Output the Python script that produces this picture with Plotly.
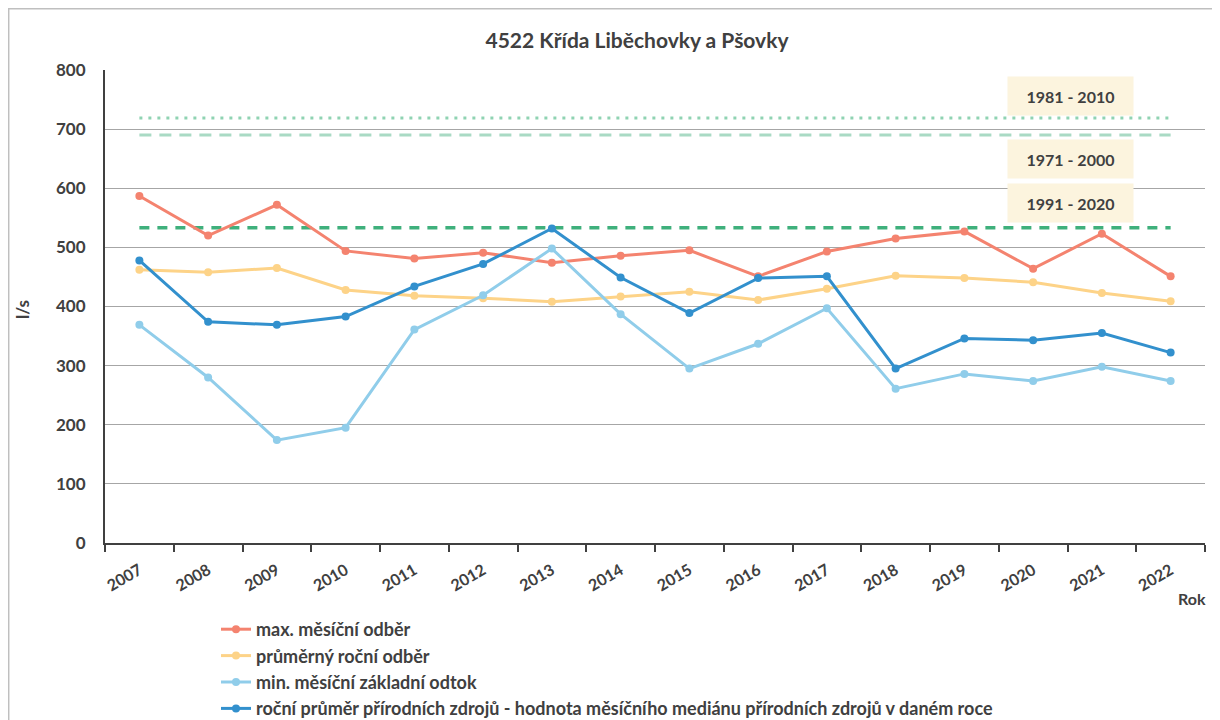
import plotly.graph_objects as go

years = [str(y) for y in range(2007, 2023)]

max_odber = [587, 520, 572, 494, 481, 491, 474, 486, 495, 451, 493, 515, 527, 464, 523, 451]
prumerny_odber = [462, 458, 465, 428, 418, 414, 408, 417, 425, 411, 430, 452, 448, 441, 423, 409]
min_odtok = [369, 280, 174, 195, 361, 419, 498, 387, 295, 337, 397, 261, 286, 274, 298, 274]
prirodni_zdroje = [478, 374, 369, 383, 434, 472, 532, 449, 389, 448, 451, 295, 346, 343, 355, 322]

ref_labels = ["1981 - 2010", "1971 - 2000", "1991 - 2020"]
ref_values = [719, 690, 533]

series_names = [
    "max. měsíční odběr",
    "průměrný roční odběr",
    "min. měsíční základní odtok",
    "roční průměr přírodních zdrojů - hodnota měsíčního mediánu přírodních zdrojů v daném roce",
]

txt = "#404040"
font = "Lato"

# plot area on screen: x 105..1205, y 70..543 (page has an 8px body margin)
def px_x(p):
    return (p - 105) / 1100


def px_y(p):
    return (543 - p) / 473


fig = go.Figure()

# reference (normal period) lines
ref_styles = [
    dict(color="#8fd3b2", width=3, dash="3px,6px"),
    dict(color="#a9dac4", width=3, dash="12px,8px"),
    dict(color="#3fb07c", width=3.5, dash="10px,8px"),
]
for lab, val, st in zip(ref_labels, ref_values, ref_styles):
    fig.add_trace(go.Scatter(x=years, y=[val] * len(years), mode="lines", line=st,
                             name=lab, showlegend=False, hoverinfo="skip"))

colors = ["#f4836f", "#fdd388", "#90cdea", "#3290cd"]
for i, (name, vals) in enumerate(zip(series_names, [max_odber, prumerny_odber, min_odtok, prirodni_zdroje])):
    fig.add_trace(go.Scatter(
        x=years, y=vals, mode="lines+markers", name=name, legendgroup=str(i),
        line=dict(color=colors[i], width=3),
        marker=dict(color=colors[i], size=8),
    ))

# label boxes for reference lines
box_y = [756, 650, 575]
for lab, yv in zip(ref_labels, box_y):
    fig.add_annotation(x=px_x(1070), xref="paper", y=yv, yref="y", text=lab, showarrow=False,
                       xanchor="center", yanchor="middle",
                       bgcolor="#fcf4de", width=123, height=36,
                       font=dict(family=font, size=16, color=txt, weight="bold"))

fig.add_annotation(x=px_x(1192), xref="paper", y=px_y(598), yref="paper",
                   text="Rok", showarrow=False, xanchor="center", yanchor="middle",
                   font=dict(family=font, size=16, color=txt, weight="bold"))

fig.add_annotation(x=px_x(22), xref="paper", y=px_y(310), yref="paper",
                   text="l/s", showarrow=False, textangle=-90, xanchor="center", yanchor="middle",
                   font=dict(family=font, size=17, color=txt, weight="bold"))

# outer frame
fig.add_shape(type="rect", xref="paper", yref="paper",
              x0=px_x(8.7), x1=px_x(1213), y0=px_y(740), y1=px_y(8.7),
              line=dict(color="#bfbfbf", width=1.5), layer="below")

fig.update_layout(
    width=1220, height=720,
    margin=dict(l=97, r=23, t=62, b=185, autoexpand=False),
    paper_bgcolor="white", plot_bgcolor="white",
    title=dict(text="4522 Křída Liběchovky a Pšovky", x=629 / 1220, xanchor="center",
               y=1 - 33 / 720, yanchor="middle",
               font=dict(family=font, size=21, color=txt, weight="bold")),
    xaxis=dict(type="category", showgrid=False, showline=True, linecolor=txt, linewidth=2,
               ticks="outside", tickson="boundaries", ticklen=7, tickwidth=2, tickcolor=txt,
               tickangle=-30, ticklabelstandoff=10,
               tickfont=dict(family=font, size=16, color=txt, weight="bold"),
               range=[-0.5, 15.5]),
    yaxis=dict(range=[0, 800], dtick=100, showgrid=True, gridcolor="#a6a6a6", gridwidth=1.3,
               zeroline=False, showline=True, linecolor=txt, linewidth=2,
               ticks="", ticklabelstandoff=14,
               tickfont=dict(family=font, size=17, color=txt, weight="bold")),
    legend=dict(xref="container", yref="container", x=208 / 1220, y=1 - 603 / 720,
                xanchor="left", yanchor="top", traceorder="grouped", tracegroupgap=0,
                font=dict(family=font, size=18, color=txt, weight="bold"),
                bgcolor="rgba(0,0,0,0)"),
    showlegend=True,
)

fig.write_html("out.html")
